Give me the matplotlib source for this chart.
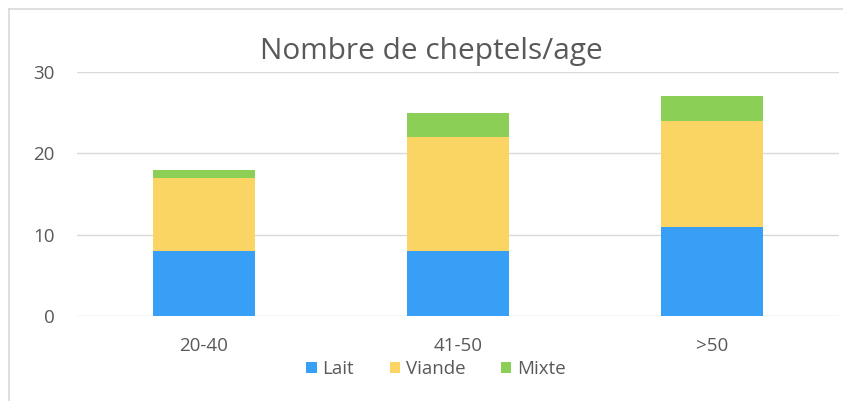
import matplotlib.pyplot as plt
from matplotlib.lines import Line2D
import numpy as np

categories = ["20-40", "41-50", ">50"]
lait = [8, 8, 11]
viande = [9, 14, 13]
mixte = [1, 3, 3]
series_names = ["Lait", "Viande", "Mixte"]
colors = ["#379FF5", "#FBD563", "#8BCF57"]
yticks = [0, 10, 20, 30]

plt.rcParams["font.family"] = ["Open Sans", "DejaVu Sans"]
text_color = "#595959"
grid_color = "#D9D9D9"

fig = plt.figure(figsize=(8.43, 4.01), dpi=100)
fig.patch.set_facecolor("white")
ax = fig.add_axes([77 / 843, 1 - 316 / 401, (839 - 77) / 843, (316 - 72) / 401])

x = np.arange(len(categories))
bottom = np.zeros(len(categories))
for name, vals, col in zip(series_names, [lait, viande, mixte], colors):
    ax.bar(x, vals, width=0.4, bottom=bottom, color=col, label=name, zorder=3)
    bottom += np.array(vals)

ax.set_xlim(-0.5, len(categories) - 0.5)
ax.set_ylim(0, 30)
ax.set_yticks(yticks)
ax.set_xticks(x)
ax.set_xticklabels(categories)
ax.grid(axis="y", color=grid_color, linewidth=1, zorder=0)
for s in ax.spines.values():
    s.set_visible(False)
ax.tick_params(axis="both", length=0, labelsize=13.5, labelcolor=text_color)
ax.tick_params(axis="y", pad=16)
ax.tick_params(axis="x", pad=15)

fig.text(431 / 843, 1 - 51 / 401, "Nombre de cheptels/age", ha="center", va="center",
         fontsize=21.5, color=text_color)

ax.legend(loc="center", bbox_to_anchor=(436 / 843, 1 - 369 / 401), bbox_transform=fig.transFigure,
          ncol=3, frameon=False, fontsize=13.5, labelcolor=text_color, handlelength=0.55,
          handleheight=0.55, handletextpad=0.3, columnspacing=1.9)

# chart frame
fig.add_artist(Line2D([9 / 843, 9 / 843], [0, 1 - 9 / 401], transform=fig.transFigure,
                      color=grid_color, linewidth=1.2))
fig.add_artist(Line2D([9 / 843, 1], [1 - 9 / 401, 1 - 9 / 401], transform=fig.transFigure,
                      color=grid_color, linewidth=1.2))

fig.savefig("out.png", dpi=100, facecolor="white")
